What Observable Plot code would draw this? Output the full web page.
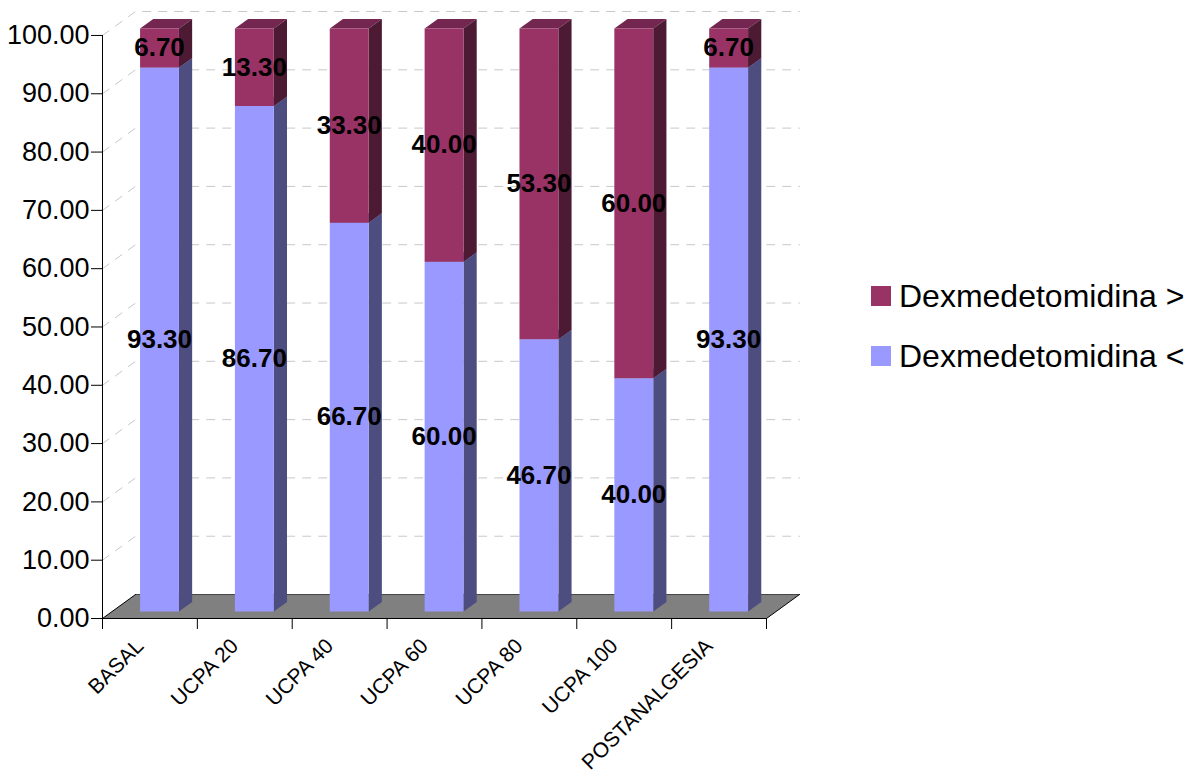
<!DOCTYPE html>
<html>
<head>
<meta charset="utf-8">
<title>Dexmedetomidina</title>
<script src="https://cdn.jsdelivr.net/npm/d3@7"></script>
<script src="https://cdn.jsdelivr.net/npm/@observablehq/plot@0.6"></script>
<style>
  html, body { margin: 0; padding: 0; background: #fff; }
  #chart { position: relative; width: 1200px; height: 776px; overflow: hidden; font-family: "Liberation Sans", Arial, sans-serif; }
  #chart svg { display: block; position: absolute; left: 0; top: 0; }
  .key { position: absolute; left: 871px; display: flex; align-items: center; height: 34px; font-size: 32px; color: #000; white-space: nowrap; }
  .key i { display: inline-block; width: 20px; height: 20px; margin-right: 8px; }
</style>
</head>
<body>
<div id="chart"></div>
<script>
const categories = ["BASAL", "UCPA 20", "UCPA 40", "UCPA 60", "UCPA 80", "UCPA 100", "POSTANALGESIA"];
const lowerValues = [93.3, 86.7, 66.7, 60, 46.7, 40, 93.3];
const upperValues = [6.7, 13.3, 33.3, 40, 53.3, 60, 6.7];
const yTicks = d3.range(0, 101, 10);
const lowerName = "Dexmedetomidina <";
const upperName = "Dexmedetomidina >";

// Face colours: front, side (shaded) and top (shaded)
const lowerColors = {front: "#9999ff", side: "#4d4d80", top: "#6b6bb0"};
const upperColors = {front: "#993366", side: "#4c1a33", top: "#732650"};

// Oblique projection: depth z in [0, 1] shifts a point right and up the wall
const depthX = 0.348;  // category units across the full depth
const depthY = 4.11;   // value units across the full depth
const barFront = 0.29, barBack = 0.69, barHalf = 0.205;
const px = (c, z) => c + z * depthX;
const py = (v, z) => v + z * depthY;
const n = categories.length;

// Builds the three visible faces of one stacked segment
function faces(values, bases, colors, name) {
  const front = [], side = [], top = [];
  values.forEach((v, i) => {
    const l = i + 0.5 - barHalf, r = i + 0.5 + barHalf;
    const y0 = bases[i], y1 = y0 + v, id = `${name}-${i}`;
    for (const [c, h] of [[l, y0], [r, y0], [r, y1], [l, y1]])
      front.push({x: px(c, barFront), y: py(h, barFront), id});
    for (const [c, h, z] of [[r, y0, barFront], [r, y0, barBack], [r, y1, barBack], [r, y1, barFront]])
      side.push({x: px(c, z), y: py(h, z), id});
    for (const [c, z] of [[l, barFront], [r, barFront], [r, barBack], [l, barBack]])
      top.push({x: px(c, z), y: py(y1, z), id});
  });
  const mark = (rows, fill) => Plot.line(rows, {x: "x", y: "y", z: "id", fill, stroke: "none"});
  return [mark(top, colors.top), mark(side, colors.side), mark(front, colors.front)];
}

const floor = [[0, 0], [n, 0], [n, 1], [0, 1]].map(([c, z]) => ({x: px(c, z), y: py(0, z)}));
const gridRows = yTicks.filter(v => v > 0).flatMap(v => [
  {x: px(0, 0), y: py(v, 0), v},
  {x: px(0, 1), y: py(v, 1), v},
  {x: px(n, 1), y: py(v, 1), v}
]);
const zeros = lowerValues.map(() => 0);

// Value labels sit at the middle of each segment's front face
const labelRows = [
  ...lowerValues.map((v, i) => ({x: px(i + 0.5, barFront), y: py(v / 2, barFront), v})),
  ...upperValues.map((v, i) => ({x: px(i + 0.5, barFront), y: py(lowerValues[i] + v / 2, barFront), v}))
];

const plot = Plot.plot({
  width: 1200,
  height: 776,
  marginLeft: 102,
  marginRight: 401,
  marginTop: 11,
  marginBottom: 158,
  style: {background: "transparent", fontFamily: "'Liberation Sans', Arial, sans-serif", overflow: "visible"},
  x: {type: "linear", domain: [0, n + depthX], axis: null},
  y: {type: "linear", domain: [0, 100 + depthY], axis: null},
  marks: [
    Plot.line(floor, {x: "x", y: "y", fill: "#808080", stroke: "none"}),
    Plot.line(gridRows, {x: "x", y: "y", z: "v", stroke: "#c8c8c8", strokeWidth: 1, strokeDasharray: "8,8"}),
    Plot.line([floor[3], floor[2]], {x: "x", y: "y", stroke: "#444", strokeWidth: 1}),
    Plot.line([floor[0], floor[3]], {x: "x", y: "y", stroke: "#000", strokeWidth: 1}),
    Plot.line([floor[1], floor[2]], {x: "x", y: "y", stroke: "#000", strokeWidth: 1}),
    Plot.line([floor[0], floor[1]], {x: "x", y: "y", stroke: "#000", strokeWidth: 1}),
    ...faces(lowerValues, zeros, lowerColors, "lower"),
    ...faces(upperValues, lowerValues, upperColors, "upper"),
    Plot.ruleX([0], {y1: 0, y2: 100, stroke: "#000", strokeWidth: 1}),
    Plot.axisY({
      ticks: yTicks, tickFormat: d3.format(".2f"), tickSize: 11, tickPadding: 2,
      fontSize: 27, stroke: "#000", strokeOpacity: 1, fill: "#000", label: null, anchor: "left"
    }),
    Plot.axisX({
      ticks: d3.range(0, n + 1), tickFormat: () => "", tickSize: 11,
      stroke: "#000", strokeOpacity: 1, label: null, anchor: "bottom"
    }),
    Plot.text(categories, {
      x: (d, i) => i + 0.5, y: () => 0, text: d => d, rotate: -45, textAnchor: "end",
      dx: -10, dy: 24, fontSize: 21, fill: "#000"
    }),
    Plot.text(labelRows, {
      x: "x", y: "y", text: d => d3.format(".2f")(d.v), fontSize: 26, fontWeight: "bold", fill: "#000"
    })
  ]
});

const chart = document.getElementById("chart");
chart.append(plot);

// Legend entries placed beside the plot area
[[upperName, upperColors.front, 279], [lowerName, lowerColors.front, 339]].forEach(([name, color, top]) => {
  const key = document.createElement("div");
  key.className = "key";
  key.style.top = top + "px";
  const swatch = document.createElement("i");
  swatch.style.background = color;
  key.append(swatch, name);
  chart.append(key);
});
</script>
</body>
</html>
